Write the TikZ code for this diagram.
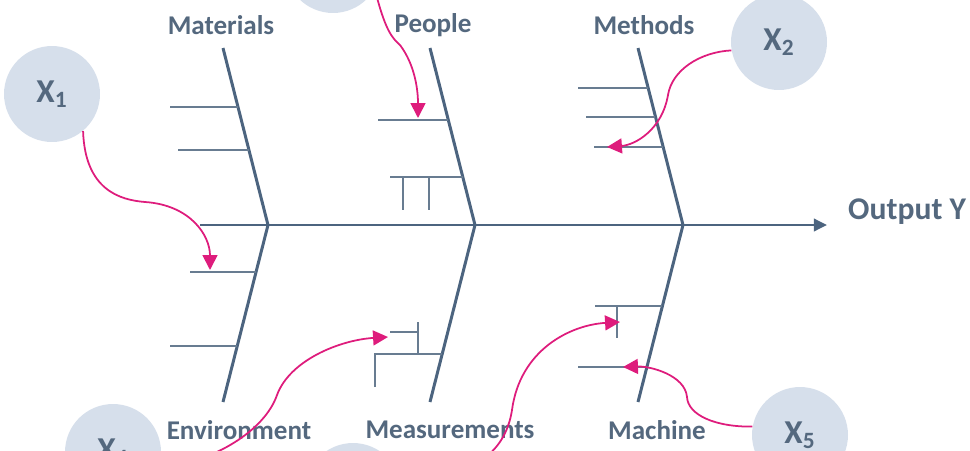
\documentclass[tikz,border=0pt]{standalone}
\usepackage{fontspec}
\setmainfont{Carlito}
\usetikzlibrary{arrows.meta}

\definecolor{bonecol}{RGB}{76,100,127}
\definecolor{twigcol}{RGB}{104,124,145}
\definecolor{textcol}{RGB}{84,104,126}
\definecolor{circfill}{RGB}{214,223,235}
\definecolor{causecol}{RGB}{222,28,124}

\begin{document}
\begin{tikzpicture}[x=0.02cm, y=-0.02cm,
  bone/.style={draw=bonecol, line width=1.7pt},
  twig/.style={draw=twigcol, line width=1.1pt},
  cat/.style={text=textcol, font=\fontsize{15.4}{17}\selectfont\bfseries},
  xcirc/.style={circle, fill=circfill, minimum size=1.92cm, inner sep=0pt, text=textcol, font=\fontsize{19}{21}\selectfont\bfseries},
  cause/.style={draw=causecol, line width=1pt, -{Triangle[length=8.5pt,width=8.5pt]}}
]
\useasboundingbox (0,0) rectangle (970,450);

% Input circles
\node[xcirc] (x1) at (52,94)  {X\textsubscript{1}};
\node[xcirc] (x2) at (779,42) {X\textsubscript{2}};
\node[xcirc] (x3) at (333,-35) {};
\node[xcirc] (x4) at (113,452) {X\textsubscript{4}};
\node[xcirc] (x5) at (800,435) {X\textsubscript{5}};
\node[xcirc] (x6) at (353,491) {};

% Spine
\coordinate (tail) at (200,225);
\coordinate (head) at (827,225);
\draw[bone, -{Triangle[length=7.5pt,width=7pt]}] (tail) -- (head);
\node[cat, anchor=west, font=\fontsize{18}{20}\selectfont\bfseries] (out) at (842,212) {Output Y};

% Main bones
\foreach \j/\n in {268/a,475/b,683/c} {
  \coordinate (top\n) at (\j-45,48);
  \coordinate (joint\n) at (\j,225);
  \coordinate (bot\n) at (\j-45,402);
  \draw[bone] (top\n) -- (joint\n) -- (bot\n);
}

% Category labels
\node[cat] (mat)  at (221,25)  {Materials};
\node[cat] (peop) at (433,25)  {People};
\node[cat] (meth) at (644,25)  {Methods};
\node[cat] (env)  at (239,430) {Environment};
\node[cat] (meas) at (450,430) {Measurements};
\node[cat] (mach) at (657,430) {Machine};

% Twigs - top
\draw[twig] (170,107) -- (238,107);
\draw[twig] (178,150) -- (249,150);
\draw[twig] (378,120) -- (448,120);
\draw[twig] (390,177) -- (463,177);
\draw[twig] (403,177) -- (403,210);
\draw[twig] (429,177) -- (429,210);
\draw[twig] (578,88) -- (648,88);
\draw[twig] (586,117) -- (655,117);
\draw[twig] (594,147) -- (663,147);

% Twigs - bottom
\draw[twig] (190,272) -- (256,272);
\draw[twig] (170,346) -- (237,346);
\draw[twig] (375,387) -- (375,354) -- (442,354);
\draw[twig] (418,354) -- (418,322);
\draw[twig] (390,332) -- (418,332);
\draw[twig] (595,306) -- (662,306);
\draw[twig] (617,306) -- (617,338);
\draw[twig] (578,367) -- (647,367);

% Arrow targets
\coordinate (tEnv)   at (210,270);
\coordinate (tPeop)  at (418,118);
\coordinate (tMeth)  at (607,147);
\coordinate (tMeas)  at (388,337);
\coordinate (tMachA) at (620,322);
\coordinate (tMachB) at (623,367);

% Causes
\draw[cause] (x1.-50) .. controls (85,190) and (120,200) .. (145,202)
  .. controls (190,205) and (210,235) .. (tEnv);
\draw[cause] (x3.-30) .. controls (385,30) and (392,38) .. (400,45)
  .. controls (415,65) and (418,90) .. (tPeop);
\draw[cause] (x2.190) .. controls (700,52) and (672,70) .. (668,95)
  .. controls (662,130) and (635,145) .. (tMeth);
\draw[cause] (x4.-20) .. controls (215,462) and (265,430) .. (277,395)
  .. controls (290,360) and (340,340) .. (tMeas);
\draw[cause] (x6.10) .. controls (470,478) and (505,455) .. (512,410)
  .. controls (520,350) and (570,325) .. (tMachA);
\draw[cause] (x5.170) .. controls (715,427) and (688,415) .. (687,397)
  .. controls (685,375) and (650,366) .. (tMachB);

\end{tikzpicture}
\end{document}
